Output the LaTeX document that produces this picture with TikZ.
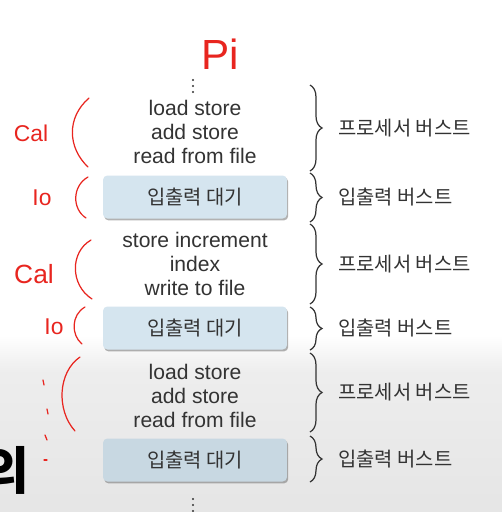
\documentclass[tikz,border=0pt]{standalone}
\usepackage{fontspec}
\setmainfont{Liberation Sans}
\newfontfamily\kr{Noto Sans CJK KR}
\usepackage{tikz}
\usetikzlibrary{decorations.pathreplacing}
\usetikzlibrary{shadows}
\usepackage{xcolor}

\definecolor{boxblue}{HTML}{D5E5EF}
\definecolor{boxbluedark}{HTML}{C8D8E2}
\definecolor{inkgray}{HTML}{333333}
\definecolor{pen}{HTML}{E8251F}

\begin{document}
\begin{tikzpicture}[x=0.02cm, y=-0.02cm,
    codetext/.style={align=center, text=inkgray, font=\fontsize{12}{13.8}\selectfont},
    iowait/.style={fill=boxblue, rounded corners=2.5pt, minimum width=3.68cm, minimum height=0.86cm,
        text=inkgray, font=\kr\fontsize{11.3}{12}\selectfont,
        drop shadow={shadow xshift=0.7pt, shadow yshift=-1.1pt, opacity=0.5, fill=black!60}},
    burst/.style={decorate, decoration={brace, amplitude=0.24cm}, draw=inkgray, line width=0.7pt},
    burstlabel/.style={anchor=west, xshift=0.44cm, text=inkgray, font=\kr\fontsize{11.3}{12}\selectfont},
    ink/.style={draw=pen, line width=0.7pt, line cap=round},
    hand/.style={text=pen, font=\fontsize{13}{13}\selectfont}]
    % page and background
    \useasboundingbox (0,0) rectangle (502,512);
    \clip (0,0) rectangle (502,512);
    \fill[white] (0,0) rectangle (502,512);
    \shade[top color=white, bottom color=black!7] (0,335) rectangle (502,372);
    \shade[top color=black!7, bottom color=black!10] (0,372) rectangle (502,512);
    
    % process Pi
    \node[hand, font=\fontsize{24}{24}\selectfont] (pi) at (220,54) {Pi};
    \fill[inkgray] (193,80) circle (0.6pt) (193,86) circle (0.6pt) (193,92) circle (0.6pt);
    
    % instruction blocks and waits
    \node[codetext] (cpu1) at (195,132) {load store\\add store\\read from file};
    \node[iowait] (io1) at (195,197) {입출력 대기};
    \node[codetext] (cpu2) at (195,264) {store increment\\index\\write to file};
    \node[iowait] (io2) at (195,328) {입출력 대기};
    \node[codetext] (cpu3) at (195,396) {load store\\add store\\read from file};
    \node[iowait, fill=boxbluedark] (io3) at (195,460) {입출력 대기};
    \fill[inkgray] (193,499) circle (0.6pt) (193,505) circle (0.6pt) (193,511) circle (0.6pt);
    
    % bursts
    \coordinate (t1) at (310,85);  \coordinate (b1) at (310,171);
    \coordinate (t2) at (310,173); \coordinate (b2) at (310,222);
    \coordinate (t3) at (310,224); \coordinate (b3) at (310,304);
    \coordinate (t4) at (310,307); \coordinate (b4) at (310,350);
    \coordinate (t5) at (310,353); \coordinate (b5) at (310,432);
    \coordinate (t6) at (310,436); \coordinate (b6) at (310,482);
    \draw[burst] (t1) -- node[burstlabel] (l1) {프로세서 버스트} (b1);
    \draw[burst] (t2) -- node[burstlabel] (l2) {입출력 버스트} (b2);
    \draw[burst] (t3) -- node[burstlabel] (l3) {프로세서 버스트} (b3);
    \draw[burst] (t4) -- node[burstlabel] (l4) {입출력 버스트} (b4);
    \draw[burst] (t5) -- node[burstlabel] (l5) {프로세서 버스트} (b5);
    \draw[burst] (t6) -- node[burstlabel] (l6) {입출력 버스트} (b6);
    
    % handwritten notes
    \node[hand] (cal1) at (31,133) {Cal};
    \draw[ink] (89,98) .. controls (66,118) and (68,148) .. (88,167);
    \node[hand] (note1) at (42,198) {Io};
    \draw[ink] (88,177) .. controls (72,186) and (72,209) .. (86,218);
    \node[hand, font=\fontsize{15}{15}\selectfont] (cal2) at (34,274) {Cal};
    \draw[ink] (91,240) .. controls (70,252) and (70,285) .. (92,299);
    \node[hand] (note2) at (54,327) {Io};
    \draw[ink] (85,307) .. controls (71,315) and (71,335) .. (82,344);
    \draw[ink] (80,357) .. controls (58,372) and (56,410) .. (75,431);
    \draw[ink] (43,380) -- (44,385);
    \draw[ink] (47,409) -- (48,414);
    \draw[ink] (45,435) -- (47,440);
    \draw[ink] (44,460) -- (47,460);
    
    % slide title edge
    \node[anchor=east, inner sep=0pt, font=\kr\bfseries\fontsize{29}{29}\selectfont] (ui) at (30,470) {의};
\end{tikzpicture}
\end{document}
